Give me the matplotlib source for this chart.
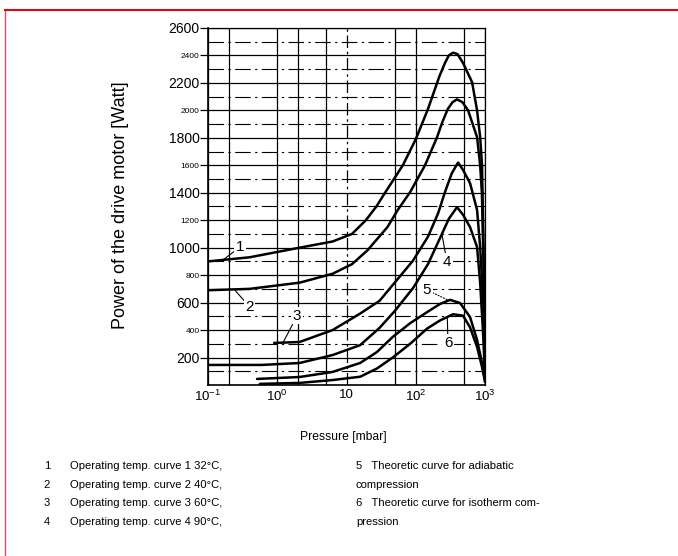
import matplotlib
matplotlib.use("Agg")
import matplotlib.pyplot as plt
from matplotlib.lines import Line2D
from matplotlib.ticker import FixedLocator, NullFormatter

plt.rcParams['font.family'] = ['Liberation Sans', 'DejaVu Sans']
plt.rcParams['mathtext.fontset'] = 'custom'
plt.rcParams['mathtext.rm'] = 'Liberation Sans'
plt.rcParams['mathtext.it'] = 'Liberation Sans'

# pressure [mbar] / power [W]
x1 = [0.1, 0.4, 2.1, 6.3, 12, 19, 27, 36, 65, 100, 150, 220, 264, 300, 345, 400, 481, 650, 767, 850, 905, 950, 1000]
y1 = [900, 930, 1000, 1045, 1100, 1200, 1300, 1400, 1600, 1790, 2010, 2250, 2345, 2400, 2420, 2410, 2345, 2205, 2000, 1805, 1600, 1000, 100]

x2 = [0.1, 0.4, 2.1, 6.3, 12, 20, 39, 55, 83, 136, 203, 240, 290, 340, 394, 470, 569, 767, 850, 900, 950, 1000]
y2 = [690, 700, 745, 810, 880, 980, 1150, 1275, 1405, 1600, 1805, 1910, 2010, 2060, 2080, 2060, 2000, 1805, 1600, 1400, 900, 100]

x3 = [0.9, 2.1, 6.3, 15.7, 30, 91, 150, 210, 264, 330, 408, 481, 607, 767, 850, 936, 1000]
y3 = [306, 313, 400, 520, 613, 905, 1080, 1250, 1405, 1540, 1620, 1566, 1470, 1275, 1005, 620, 60]

x4 = [0.1, 0.6, 2.1, 6.3, 15.7, 30, 50, 92, 150, 224, 300, 394, 480, 607, 767, 850, 936, 1000]
y4 = [146, 146, 160, 218, 290, 416, 540, 708, 880, 1070, 1210, 1295, 1240, 1150, 1005, 745, 380, 60]

x5 = [0.51, 2.1, 6.3, 15.7, 27.5, 46.5, 83, 145, 224, 312, 435, 607, 767, 905, 1000]
y5 = [44, 58, 95, 160, 240, 350, 450, 530, 590, 620, 597, 495, 328, 160, 36]

x6 = [0.56, 2.1, 6.3, 15.7, 27.5, 46.5, 83, 145, 224, 345, 481, 607, 767, 905, 1000]
y6 = [8, 15, 36, 60, 120, 200, 300, 410, 470, 515, 505, 420, 277, 131, 20]

curves = [(x1, y1), (x2, y2), (x3, y3), (x4, y4), (x5, y5), (x6, y6)]

# curve numbers: label, text position, point on the curve
labels = ['1', '2', '3', '4', '5', '6']
label_pos = [(0.29, 1005), (0.40, 568), (1.93, 503), (282, 896), (145, 692), (292, 306)]
label_target = [(0.159, 905), (0.245, 690), (1.21, 308), (240, 1090), (292, 618), (285, 495)]

y_ticks = [200, 400, 600, 800, 1000, 1200, 1400, 1600, 1800, 2000, 2200, 2400, 2600]
y_minor = [100, 300, 500, 700, 900, 1100, 1300, 1500, 1700, 1900, 2100, 2300, 2500]
x_ticks = [0.1, 1, 10, 100, 1000]
x_ticklabels = ['$10^{-1}$', '$10^{0}$', '10', '$10^{2}$', '$10^{3}$']
x_minor = [0.2, 2, 5, 50, 500]

legend_left = ['Operating temp. curve 1 32°C,', 'Operating temp. curve 2 40°C,',
               'Operating temp. curve 3 60°C,', 'Operating temp. curve 4 90°C,']
legend_right = [('5', 'Theoretic curve for adiabatic'), ('', 'compression'),
                ('6', 'Theoretic curve for isotherm com-'), ('', 'pression')]

fig = plt.figure(figsize=(6.78, 5.56), dpi=100)
ax = fig.add_axes([0.3068, 0.3076, 0.4086, 0.6421])
ax.set_xscale('log')
ax.set_xlim(0.1, 1000)
ax.set_ylim(0, 2600)

# grid of the original diagram
ax.set_yticks(y_ticks)
ax.set_yticks(y_minor, minor=True)
ax.set_xticks(x_ticks, x_ticklabels)
ax.xaxis.set_minor_locator(FixedLocator(x_minor))
ax.xaxis.set_minor_formatter(NullFormatter())
ax.grid(which='major', axis='y', color='black', lw=0.9)
ax.grid(which='minor', axis='y', color='black', lw=0.8, ls=(0, (14, 4, 2, 4)))
ax.grid(which='both', axis='x', color='black', lw=0.9)
for t in ax.xaxis.get_minor_ticks():
    if t.get_loc() == 50:
        t.gridline.set_linestyle(':')
for t in ax.xaxis.get_major_ticks():
    if t.get_loc() == 10:
        t.gridline.set_linestyle((0, (10, 3, 2, 3)))
ax.set_axisbelow(True)

ax.tick_params(axis='y', which='major', direction='out', length=6, width=0.9, pad=0)
ax.tick_params(axis='y', which='minor', length=0)
ax.tick_params(axis='x', which='both', length=0, pad=3, labelsize=9.5)
for i, lab in enumerate(ax.get_yticklabels()):
    lab.set_fontsize(10 if i % 2 == 0 else 6)
for side in ['left', 'bottom']:
    ax.spines[side].set_linewidth(1.2)
for side in ['top', 'right']:
    ax.spines[side].set_linewidth(0.9)

for x, y in curves:
    ax.plot(x, y, color='black', lw=1.8, solid_capstyle='round', solid_joinstyle='round')

for i, lab in enumerate(labels):
    ls = ':' if lab == '5' else '-'
    ax.annotate(lab, xy=label_target[i], xytext=label_pos[i], ha='center', va='center',
                fontsize=11, bbox=dict(boxstyle='square,pad=0.1', fc='white', ec='none'),
                arrowprops=dict(arrowstyle='-', lw=0.8, ls=ls, color='black', shrinkA=0, shrinkB=0))

fig.text(0.177, 0.631, 'Power of the drive motor [Watt]', rotation=90, ha='center', va='center', fontsize=13)
fig.text(0.506, 0.214, 'Pressure [mbar]', ha='center', va='center', fontsize=8.7)

rows_y = [0.162, 0.128, 0.095, 0.061]
for i, txt in enumerate(legend_left):
    fig.text(0.069, rows_y[i], str(i + 1), ha='center', va='center', fontsize=8.1)
    fig.text(0.103, rows_y[i], txt, ha='left', va='center', fontsize=8.1)
for i, (num, txt) in enumerate(legend_right):
    if num:
        fig.text(0.525, rows_y[i], num + '   ' + txt, ha='left', va='center', fontsize=8.1)
    else:
        fig.text(0.525, rows_y[i], txt, ha='left', va='center', fontsize=8.1)

# red frame of the page
fig.add_artist(Line2D([0.0074, 1.0], [0.982, 0.982], transform=fig.transFigure, color='#e2001a', lw=1.5))
fig.add_artist(Line2D([0.0074, 0.0074], [0.0, 0.982], transform=fig.transFigure, color='#e2001a', lw=1.0, alpha=0.7))

fig.savefig('out.png', dpi=100)
